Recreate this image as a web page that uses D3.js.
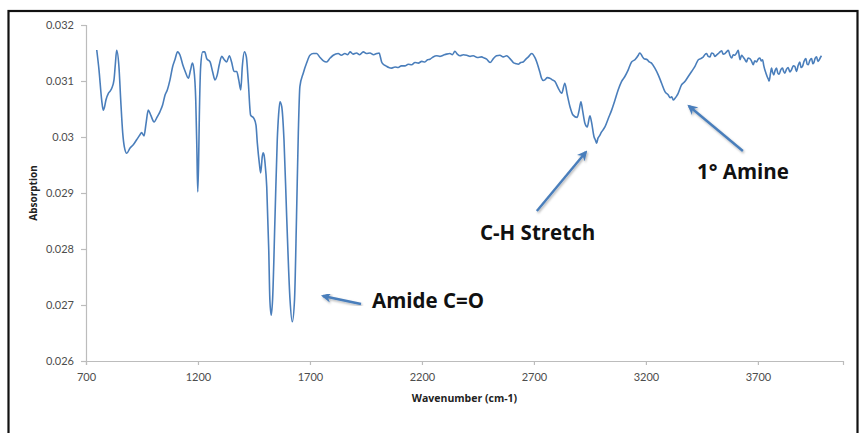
<!DOCTYPE html>
<html>
<head>
<meta charset="utf-8">
<script src="https://cdn.jsdelivr.net/npm/d3@7"></script>
<style>
  html, body { margin: 0; padding: 0; background: #fff; }
  svg { display: block; }
</style>
</head>
<body>
<svg id="chart" width="859" height="433"></svg>
<script>
// FTIR spectrum: wavenumber (cm-1) vs absorption
const wavenumber = [
  748,758,770,777,783,789,800,808,815,825,831,837,847,855,864,871,882,896,911,926,
  941,948,959,968,978,989,1004,1018,1030,1042,1053,1063,1075,1087,1097,1109,1120,1132,1143,1157,
  1167,1175,1182,1190,1195,1199,1203,1206,1212,1221,1230,1239,1254,1265,1276,1286,1295,1306,1316,1328,
  1340,1350,1361,1373,1382,1391,1398,1407,1416,1425,1435,1450,1459,1465,1474,1480,1487,1491,1495,1499,
  1507,1516,1521,1527,1533,1544,1554,1560,1566,1574,1584,1596,1611,1621,1631,1640,1648,1655,1670,1685,
  1700,1715,1730,1745,1760,1774,1790,1804,1826,1840,1856,1868,1879,1893,1908,1922,1938,1952,1968,1984,
  1998,2009,2015,2020,2030,2039,2052,2065,2080,2094,2108,2124,2139,2154,2169,2184,2199,2213,2225,2236,
  2250,2266,2280,2295,2310,2325,2336,2347,2358,2370,2385,2400,2415,2429,2447,2466,2478,2489,2504,2519,
  2533,2548,2563,2578,2593,2608,2620,2630,2641,2652,2664,2675,2690,2704,2719,2727,2734,2742,2749,2760,
  2771,2782,2794,2809,2824,2838,2849,2861,2875,2893,2902,2910,2917,2928,2938,2950,2957,2968,2975,2980,
  2986,2991,3002,3017,3032,3047,3062,3076,3091,3106,3121,3136,3151,3166,3172,3178,3185,3191,3206,3215,
  3225,3240,3255,3270,3285,3300,3308,3315,3322,3330,3337,3344,3359,3374,3389,
  3404,3419,3434,3445,3456,3463,3471,3478,3486,3493,
  3501,3508,3515,3526,3538,3545,3553,3560,3568,3575,
  3583,3590,3597,3605,3612,3620,3627,3634,3641,3649,
  3656,3664,3671,3679,3686,3694,3701,3709,3715,3721,
  3726,3731,3736,3741,3746,3750,3756,3761,3766,3771,
  3777,3783,3789,3795,3802,3810,3815,3820,3828,3835,
  3843,3850,3858,3865,3872,3880,3887,3893,3899,3906,
  3914,3920,3925,3932,3940,3945,3950,3956,3962,3968,
  3974,3979,3984
];
const absorption = [
  .031554,.03120,.03066,.03048,.03054,.03066,.03078,.03082,.03087,.03102,.03130,.03155,.03126,.03066,.03007,.02983,.02971,.02980,.02986,.02995,
  .03004,.03008,.03002,.03024,.03048,.03039,.03027,.03036,.03045,.03057,.03075,.03084,.03102,.03126,.03138,.03152,.03146,.03129,.03117,.03105,
  .03120,.03132,.03120,.03066,.02980,.02902,.02960,.03036,.03126,.03152,.03152,.03140,.03134,.03117,.03102,.03111,.03129,.03144,.03139,.03134,
  .03145,.03134,.03117,.03117,.03102,.03084,.03126,.03152,.03143,.03096,.03039,.03033,.03021,.02989,.02953,.02936,.02965,.02972,.02968,.02955,
  .02911,.02798,.02709,.02682,.02709,.02858,.02995,.03040,.03063,.03054,.02995,.02858,.02709,.02670,.02709,.02858,.03007,.03090,.03114,.03132,
  .03146,.03149,.03149,.03142,.03136,.03134,.03141,.03146,.03149,.03146,.03149,.03147,.03152,.03148,.03150,.03147,.03152,.03149,.03150,.03147,
  .03149,.03150,.03142,.03134,.03129,.03127,.03124,.03123,.03125,.03124,.03127,.03127,.03130,.03129,.03133,.03132,.03135,.03134,.03138,.03139,
  .03143,.03145,.03144,.03146,.03148,.03149,.03147,.03153,.03148,.03145,.03147,.03146,.03144,.03145,.03142,.03143,.03141,.03139,.03133,.03140,
  .03145,.03146,.03143,.03145,.03140,.03133,.03131,.03130,.03133,.03134,.03139,.03143,.03149,.03142,.03126,.03115,.03105,.03101,.03102,.03106,
  .03105,.03102,.03099,.03087,.03078,.03096,.03075,.03054,.03039,.03035,.03048,.03063,.03048,.03024,.03018,.03038,.03027,.03001,.02994,.02989,
  .02998,.03001,.03009,.03018,.03033,.03048,.03066,.03084,.03099,.03108,.03120,.03134,.03138,.03146,.03150,.03148,.03143,.03140,.03138,.03134,
  .03132,.03123,.03111,.03096,.03081,.03075,.03070,.03072,.03066,.03069,.03073,.03078,.03093,.03099,.03108,
  .03117,.03126,.03138,.03140,.03143,.03147,.03149,.03144,.03143,.03150,
  .03149,.03144,.03146,.03150,.03154,.03148,.03149,.03152,.03155,.03146,
  .03141,.03147,.03146,.03150,.03155,.03138,.03146,.03143,.03139,.03134,
  .03141,.03140,.03136,.03129,.03136,.03134,.03139,.03141,.03136,.03138,
  .03128,.03120,.03114,.03108,.03104,.03100,.03113,.03123,.03115,.03111,
  .03119,.03123,.03114,.03112,.03120,.03123,.03117,.03114,.03121,.03124,
  .03116,.03120,.03127,.03126,.03117,.03128,.03134,.03124,.03126,.03135,
  .03140,.03130,.03129,.03137,.03140,.03131,.03133,.03141,.03143,.03135,
  .03138,.03142,.03145
];

const xTicks = [700, 1200, 1700, 2200, 2700, 3200, 3700];
const yTicks = [0.026, 0.027, 0.028, 0.029, 0.03, 0.031, 0.032];
const xDomain = [700, 4080];
const yDomain = [0.026, 0.032];

// Band assignments with arrow tail, arrow tip and label baseline (wavenumber, absorption)
const bandLabels = ["Amide C=O", "C-H Stretch", "1° Amine"];
const arrowTail  = [[1928, 0.027018], [2713, 0.028679], [3633, 0.029750]];
const arrowTip   = [[1758, 0.027161], [2932, 0.029732], [3392, 0.030554]];
const labelPos   = [[1977, 0.026946], [2459, 0.028161], [3428, 0.029250]];

const svg = d3.select("#chart");
const margin = { left: 86, right: 16, top: 25, bottom: 72 };
const W = 859, H = 433;

const x = d3.scaleLinear().domain(xDomain).range([margin.left, W - margin.right]);
const y = d3.scaleLinear().domain(yDomain).range([H - margin.bottom, margin.top]);

// outer frame
svg.append("rect")
  .attr("x", 8.5).attr("y", 11)
  .attr("width", 849).attr("height", 440)
  .attr("fill", "none").attr("stroke", "#111").attr("stroke-width", 2.2);

const axisColor = "#bcbcbc";
const labelColor = "#4d4d4d";
const tickFont = "Lato, 'Liberation Sans', sans-serif";
const titleFont = "'Open Sans', sans-serif";

// y axis
const yAxis = svg.append("g")
  .attr("transform", `translate(${margin.left},0)`)
  .call(d3.axisLeft(y).tickValues(yTicks).tickSize(5).tickPadding(7).tickFormat(d => String(+d.toFixed(3))));
// x axis
const xAxis = svg.append("g")
  .attr("transform", `translate(0,${H - margin.bottom})`)
  .call(d3.axisBottom(x).tickValues(xTicks).tickSize(4).tickPadding(8).tickFormat(d => String(d)));

[xAxis, yAxis].forEach(g => {
  g.select(".domain").attr("stroke", axisColor).attr("stroke-width", 1.2);
  g.selectAll(".tick line").attr("stroke", axisColor).attr("stroke-width", 1.2);
  g.selectAll(".tick text")
    .attr("fill", labelColor)
    .style("font-family", tickFont)
    .style("font-size", "11px");
});

// axis titles
svg.append("text")
  .attr("x", (x.range()[0] + x.range()[1]) / 2)
  .attr("y", 402)
  .attr("text-anchor", "middle")
  .style("font-family", titleFont)
  .style("font-weight", "bold")
  .style("font-size", "10.5px")
  .attr("fill", "#222")
  .text("Wavenumber (cm-1)");

svg.append("text")
  .attr("transform", `translate(37,${(y.range()[0] + y.range()[1]) / 2}) rotate(-90)`)
  .attr("text-anchor", "middle")
  .style("font-family", titleFont)
  .style("font-weight", "bold")
  .style("font-size", "10px")
  .attr("fill", "#222")
  .text("Absorption");

// spectrum line
const pts = wavenumber.map((w, i) => [w, absorption[i]]);
const line = d3.line()
  .x(d => x(d[0]))
  .y(d => y(d[1]))
  .curve(d3.curveMonotoneX);

svg.append("path")
  .datum(pts)
  .attr("d", line)
  .attr("fill", "none")
  .attr("stroke", "#4a7ebb")
  .attr("stroke-width", 1.6)
  .attr("stroke-linejoin", "round");

// annotation arrows and labels
const defs = svg.append("defs");
defs.append("marker")
  .attr("id", "head")
  .attr("viewBox", "0 0 10 10")
  .attr("refX", 8).attr("refY", 5)
  .attr("markerWidth", 4.2).attr("markerHeight", 4.2)
  .attr("orient", "auto")
  .append("path")
  .attr("d", "M0,0 L10,5 L0,10 L3,5 Z")
  .attr("fill", "#4a7ebb");

const filter = defs.append("filter").attr("id", "shadow")
  .attr("x", "-20%").attr("y", "-20%").attr("width", "140%").attr("height", "140%");
filter.append("feDropShadow").attr("dx", 1).attr("dy", 1.5).attr("stdDeviation", 1.2)
  .attr("flood-color", "#000").attr("flood-opacity", 0.3);

bandLabels.forEach((lab, i) => {
  svg.append("line")
    .attr("x1", x(arrowTail[i][0])).attr("y1", y(arrowTail[i][1]))
    .attr("x2", x(arrowTip[i][0])).attr("y2", y(arrowTip[i][1]))
    .attr("stroke", "#4a7ebb")
    .attr("stroke-width", 2.4)
    .attr("marker-end", "url(#head)")
    .attr("filter", "url(#shadow)");
  svg.append("text")
    .attr("x", x(labelPos[i][0]))
    .attr("y", y(labelPos[i][1]))
    .style("font-family", "'Open Sans', sans-serif")
    .style("font-weight", "bold")
    .style("font-size", "20.5px")
    .attr("fill", "#111")
    .text(lab);
});
</script>
</body>
</html>
